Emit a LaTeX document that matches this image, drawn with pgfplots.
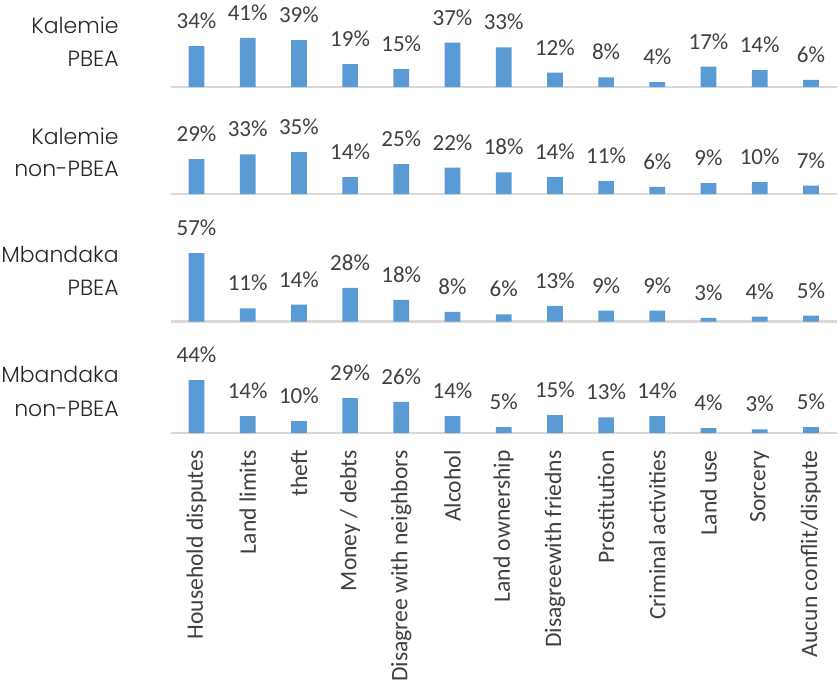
\documentclass[border=0pt]{standalone}
\usepackage{fontspec}
\setmainfont{Carlito}
\newfontfamily\gothic{Poppins Light}
\usepackage{pgfplots}
\pgfplotsset{compat=1.18}
\definecolor{barblue}{HTML}{5B9BD5}
\definecolor{txt}{HTML}{404040}
\definecolor{lbl}{HTML}{262626}
\definecolor{basel}{HTML}{D9D9D9}
\pgfplotsset{panel/.style={
  x=25.6pt, y=0.6pt, xmin=-0.5, xmax=12.5, ymin=0, ymax=60,
  anchor=south west, scale only axis,
  axis x line*=bottom, axis y line=none,
  x axis line style={basel, line width=1.2pt},
  xtick=\empty, ytick=\empty, major tick length=0pt,
  ybar, bar width=7.85pt, bar shift=0pt,
  clip=false,
  /pgf/number format/assume math mode=true,
  nodes near coords={\pgfmathprintnumber[fixed,precision=0,assume math mode=true]{\pgfplotspointmeta}\%},
  nodes near coords style={font=\fontsize{11.5}{13}\selectfont, text=txt, anchor=base, yshift=8.75pt, inner sep=0pt},
  point meta=y,
}}
\begin{document}
\begin{tikzpicture}
\path[use as bounding box] (0,0) rectangle (418.5pt,-342.5pt);
% Panel 1
\begin{axis}[panel, at={(85.45pt,-43.5pt)}]
\addplot[fill=barblue, draw=none] coordinates {(0,34) (1,41) (2,39) (3,19) (4,15) (5,37) (6,33) (7,12) (8,8) (9,4) (10,17) (11,14) (12,6)};
\end{axis}
% Panel 2
\begin{axis}[panel, at={(85.45pt,-97pt)}]
\addplot[fill=barblue, draw=none] coordinates {(0,29) (1,33) (2,35) (3,14) (4,25) (5,22) (6,18) (7,14) (8,11) (9,6) (10,9) (11,10) (12,7)};
\end{axis}
% Panel 3
\begin{axis}[panel, at={(85.45pt,-160.75pt)}]
\addplot[fill=barblue, draw=none] coordinates {(0,57) (1,11) (2,14) (3,28) (4,18) (5,8) (6,6) (7,13) (8,9) (9,9) (10,3) (11,4) (12,5)};
\end{axis}
% Panel 4
\begin{axis}[panel, at={(85.45pt,-216.5pt)},
  xtick={0,...,12},
  xticklabels={Household disputes, Land limits, theft, Money / debts, Disagree with neighbors, Alcohol, Land ownership, Disagreewith friedns, Prostitution, Criminal activities, Land use, Sorcery, Aucun conflit/dispute},
  xticklabel style={rotate=90, anchor=east, inner sep=0pt, font=\fontsize{11.8}{13}\selectfont, text=txt},
  xticklabel shift=8.5pt]
\addplot[fill=barblue, draw=none] coordinates {(0,44) (1,14) (2,10) (3,29) (4,26) (5,14) (6,5) (7,15) (8,13) (9,14) (10,4) (11,3) (12,5)};
\end{axis}
% Panel labels
\begin{scope}[every node/.style={anchor=base east, inner sep=0pt, font=\gothic\fontsize{11}{13}\selectfont, text=lbl}]
\node at (59.5pt,-16.6pt) {Kalemie};
\node at (59.5pt,-33.4pt) {PBEA};
\node at (59.5pt,-72.2pt) {Kalemie};
\node at (59.5pt,-88.4pt) {non-PBEA};
\node at (59.5pt,-131.2pt) {Mbandaka};
\node at (59.5pt,-147.9pt) {PBEA};
\node at (59.5pt,-191.4pt) {Mbandaka};
\node at (59.5pt,-208pt) {non-PBEA};
\end{scope}
\end{tikzpicture}
\end{document}
